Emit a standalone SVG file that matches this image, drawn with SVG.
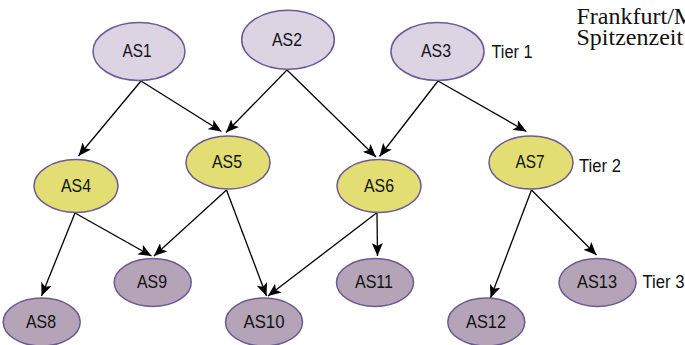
<svg xmlns="http://www.w3.org/2000/svg" width="685" height="345" viewBox="0 0 685 345">
<defs>
<marker id="ah" markerWidth="13" markerHeight="11" refX="13" refY="5.5" orient="auto" markerUnits="userSpaceOnUse">
<path d="M0,0 L13,5.5 L0,11 L3,5.5 Z" fill="#000"/>
</marker>
</defs>
<style>
.t1{fill:#dcd4e3;stroke:#6b5a93;stroke-width:1.5}
.t2{fill:#e2de74;stroke:#6b5a93;stroke-width:1.5}
.t3{fill:#b5a3b7;stroke:#6b5a93;stroke-width:1.5}
.lbl{font-family:"Liberation Sans",Arial,sans-serif;font-size:19px;fill:#111;text-anchor:middle}
.tier{font-family:"Liberation Sans",Arial,sans-serif;font-size:18px;fill:#111}
.ser{font-family:"Liberation Serif","Times New Roman",serif;font-size:24px;fill:#111}
.e{stroke:#000;stroke-width:1.3;fill:none;marker-end:url(#ah)}
</style>
<rect width="685" height="345" fill="#fff"/>
<g id="connectors">
<line class="e" x1="141" y1="81" x2="78.5" y2="156"/>
<line class="e" x1="141" y1="81" x2="221.5" y2="131.5"/>
<line class="e" x1="287" y1="70" x2="226" y2="132.5"/>
<line class="e" x1="287" y1="70" x2="376" y2="157"/>
<line class="e" x1="438" y1="81" x2="379.5" y2="156.5"/>
<line class="e" x1="438" y1="81" x2="526.5" y2="131.5"/>
<line class="e" x1="75" y1="213" x2="41.5" y2="296"/>
<line class="e" x1="75" y1="213" x2="151.5" y2="256"/>
<line class="e" x1="226.5" y1="190" x2="154" y2="256"/>
<line class="e" x1="226.5" y1="190" x2="266.5" y2="296"/>
<line class="e" x1="376.5" y1="213" x2="268" y2="296"/>
<line class="e" x1="377" y1="213" x2="377.5" y2="256"/>
<line class="e" x1="531.5" y1="190" x2="490.5" y2="298"/>
<line class="e" x1="531.5" y1="190" x2="596.5" y2="255"/>
</g>
<g id="AS1"><ellipse class="t1" cx="139" cy="51.5" rx="46" ry="29"/><text class="lbl" x="137" y="57" textLength="29" lengthAdjust="spacingAndGlyphs">AS1</text></g>
<g id="AS2"><ellipse class="t1" cx="288" cy="39.7" rx="46.3" ry="29.5"/><text class="lbl" x="287" y="45.5" textLength="30" lengthAdjust="spacingAndGlyphs">AS2</text></g>
<g id="AS3"><ellipse class="t1" cx="437.5" cy="51.5" rx="46.5" ry="29"/><text class="lbl" x="436" y="57" textLength="30" lengthAdjust="spacingAndGlyphs">AS3</text></g>
<g id="AS4"><ellipse class="t2" cx="76" cy="186" rx="42" ry="26.5"/><text class="lbl" x="76" y="191.5" textLength="30" lengthAdjust="spacingAndGlyphs">AS4</text></g>
<g id="AS5"><ellipse class="t2" cx="228" cy="162.5" rx="42" ry="26.5"/><text class="lbl" x="227" y="168" textLength="30" lengthAdjust="spacingAndGlyphs">AS5</text></g>
<g id="AS6"><ellipse class="t2" cx="379" cy="186" rx="42" ry="26.5"/><text class="lbl" x="379" y="191.5" textLength="30" lengthAdjust="spacingAndGlyphs">AS6</text></g>
<g id="AS7"><ellipse class="t2" cx="531" cy="162.5" rx="42" ry="26.5"/><text class="lbl" x="530" y="168" textLength="29" lengthAdjust="spacingAndGlyphs">AS7</text></g>
<g id="AS8"><ellipse class="t3" cx="41.7" cy="322" rx="38.5" ry="24"/><text class="lbl" x="41" y="327.5" textLength="30" lengthAdjust="spacingAndGlyphs">AS8</text></g>
<g id="AS9"><ellipse class="t3" cx="152.7" cy="282.5" rx="38.5" ry="24"/><text class="lbl" x="152" y="288" textLength="30" lengthAdjust="spacingAndGlyphs">AS9</text></g>
<g id="AS10"><ellipse class="t3" cx="264" cy="322" rx="38.5" ry="24"/><text class="lbl" x="264" y="327.5" textLength="41" lengthAdjust="spacingAndGlyphs">AS10</text></g>
<g id="AS11"><ellipse class="t3" cx="375" cy="282.5" rx="38.5" ry="24"/><text class="lbl" x="374" y="288" textLength="38" lengthAdjust="spacingAndGlyphs">AS11</text></g>
<g id="AS12"><ellipse class="t3" cx="486.3" cy="322" rx="38.5" ry="24"/><text class="lbl" x="486" y="327.5" textLength="40" lengthAdjust="spacingAndGlyphs">AS12</text></g>
<g id="AS13"><ellipse class="t3" cx="597.5" cy="282.5" rx="38.5" ry="24"/><text class="lbl" x="597" y="288" textLength="40" lengthAdjust="spacingAndGlyphs">AS13</text></g>
<g id="tiers">
<text class="tier" x="491.5" y="58.3" textLength="41" lengthAdjust="spacingAndGlyphs">Tier 1</text>
<text class="tier" x="579" y="171.7" textLength="42" lengthAdjust="spacingAndGlyphs">Tier 2</text>
<text class="tier" x="642.5" y="288.3" textLength="42" lengthAdjust="spacingAndGlyphs">Tier 3</text>
</g>
<g id="caption">
<text class="ser" x="576.5" y="23.5">Frankfurt/M</text>
<text class="ser" x="576.5" y="45">Spitzenzeit</text>
</g>
</svg>
